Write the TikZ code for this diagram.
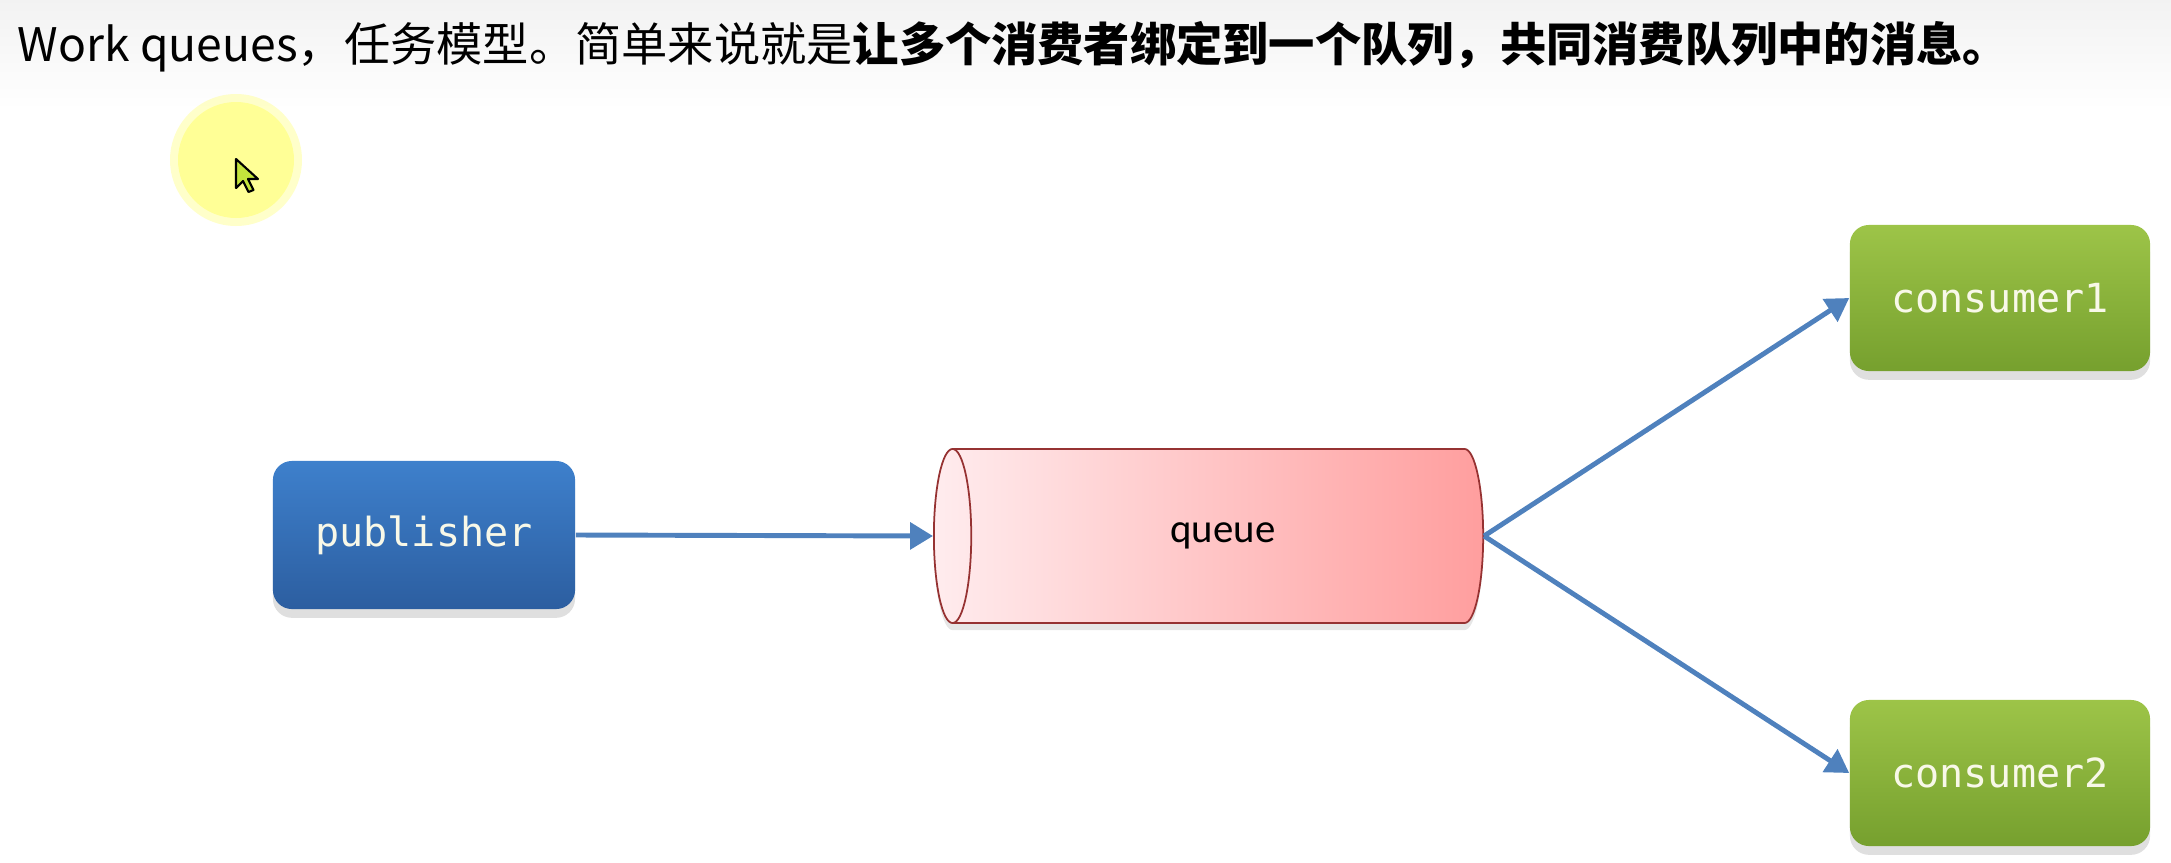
\documentclass[tikz,border=0pt]{standalone}
\usepackage{fontspec}
\usepackage{xcolor}
\usetikzlibrary{arrows.meta,shapes.geometric,shadows}

\newfontfamily\cjkfont{Noto Sans CJK SC}
\newfontfamily\labelfont{DejaVu Sans Mono}
\newfontfamily\queuefont{Carlito}

\definecolor{pubtop}{RGB}{62,128,204}
\definecolor{pubbot}{RGB}{44,94,160}
\definecolor{contop}{RGB}{157,196,72}
\definecolor{conbot}{RGB}{118,160,46}
\definecolor{qleft}{RGB}{255,236,238}
\definecolor{qright}{RGB}{255,158,158}
\definecolor{qborder}{RGB}{150,50,50}
\definecolor{linkblue}{RGB}{79,129,189}
\definecolor{boxtext}{RGB}{248,248,232}
\definecolor{marker}{RGB}{255,255,150}
\definecolor{pointer}{RGB}{196,228,60}

\tikzset{
  box/.style={rounded corners=0.19cm, minimum width=3.0cm, minimum height=1.46cm,
    text=boxtext, font=\labelfont\fontsize{11.4}{13}\selectfont,
    drop shadow={shadow xshift=0pt, shadow yshift=-2.5pt, opacity=0.25}},
  pubbox/.style={box, top color=pubtop, bottom color=pubbot},
  conbox/.style={box, top color=contop, bottom color=conbot},
  link/.style={-{Triangle[length=6.5pt,width=7.5pt]}, linkblue, line width=1.4pt},
}

\begin{document}
\begin{tikzpicture}[x=0.01cm, y=-0.01cm]
    \useasboundingbox (0,0) rectangle (2171,863);

    % Bandeau du haut
    \shade[top color=black!5, bottom color=white] (0,0) rectangle (2171,110);

    % Titre
    \node[anchor=west, inner sep=0pt, font=\cjkfont\fontsize{13.15}{15}\selectfont] (title) at (17,47)
      {Work queues，任务模型。简单来说就是\textbf{让多个消费者绑定到一个队列，共同消费队列中的消息。}};

    % Surlignage du curseur
    \fill[marker, opacity=0.5] (236,160) circle (66);
    \fill[marker] (236,160) circle (58);
    \filldraw[fill=pointer, draw=black, line width=0.6pt, line join=round]
      (236,159) -- ++(0,29) -- ++(7,-7) -- ++(5.5,11) -- ++(5,-2) -- ++(-5.5,-11) -- ++(10,0) -- cycle;

    % Noeuds
    \node[pubbox, minimum width=3.02cm, minimum height=1.48cm] (publisher) at (424,535) {publisher};
    \node[cylinder, shape border rotate=180, aspect=0.75, minimum height=5.49cm, minimum width=1.74cm,
      draw=qborder, line width=0.5pt, left color=qleft, right color=qright,
      font=\queuefont\fontsize{11.6}{13}\selectfont,
      drop shadow={shadow xshift=0pt, shadow yshift=-2pt, opacity=0.2}] (queue) at (1223,536) {queue};
    \node[conbox] (consumer1) at (2000,298) {consumer1};
    \node[conbox] (consumer2) at (2000,773) {consumer2};

    % Fleches
    \draw[link] (publisher.east) -- (queue.west);
    \draw[link] (queue.east) -- (consumer1.west);
    \draw[link] (queue.east) -- (consumer2.west);

\end{tikzpicture}
\end{document}
